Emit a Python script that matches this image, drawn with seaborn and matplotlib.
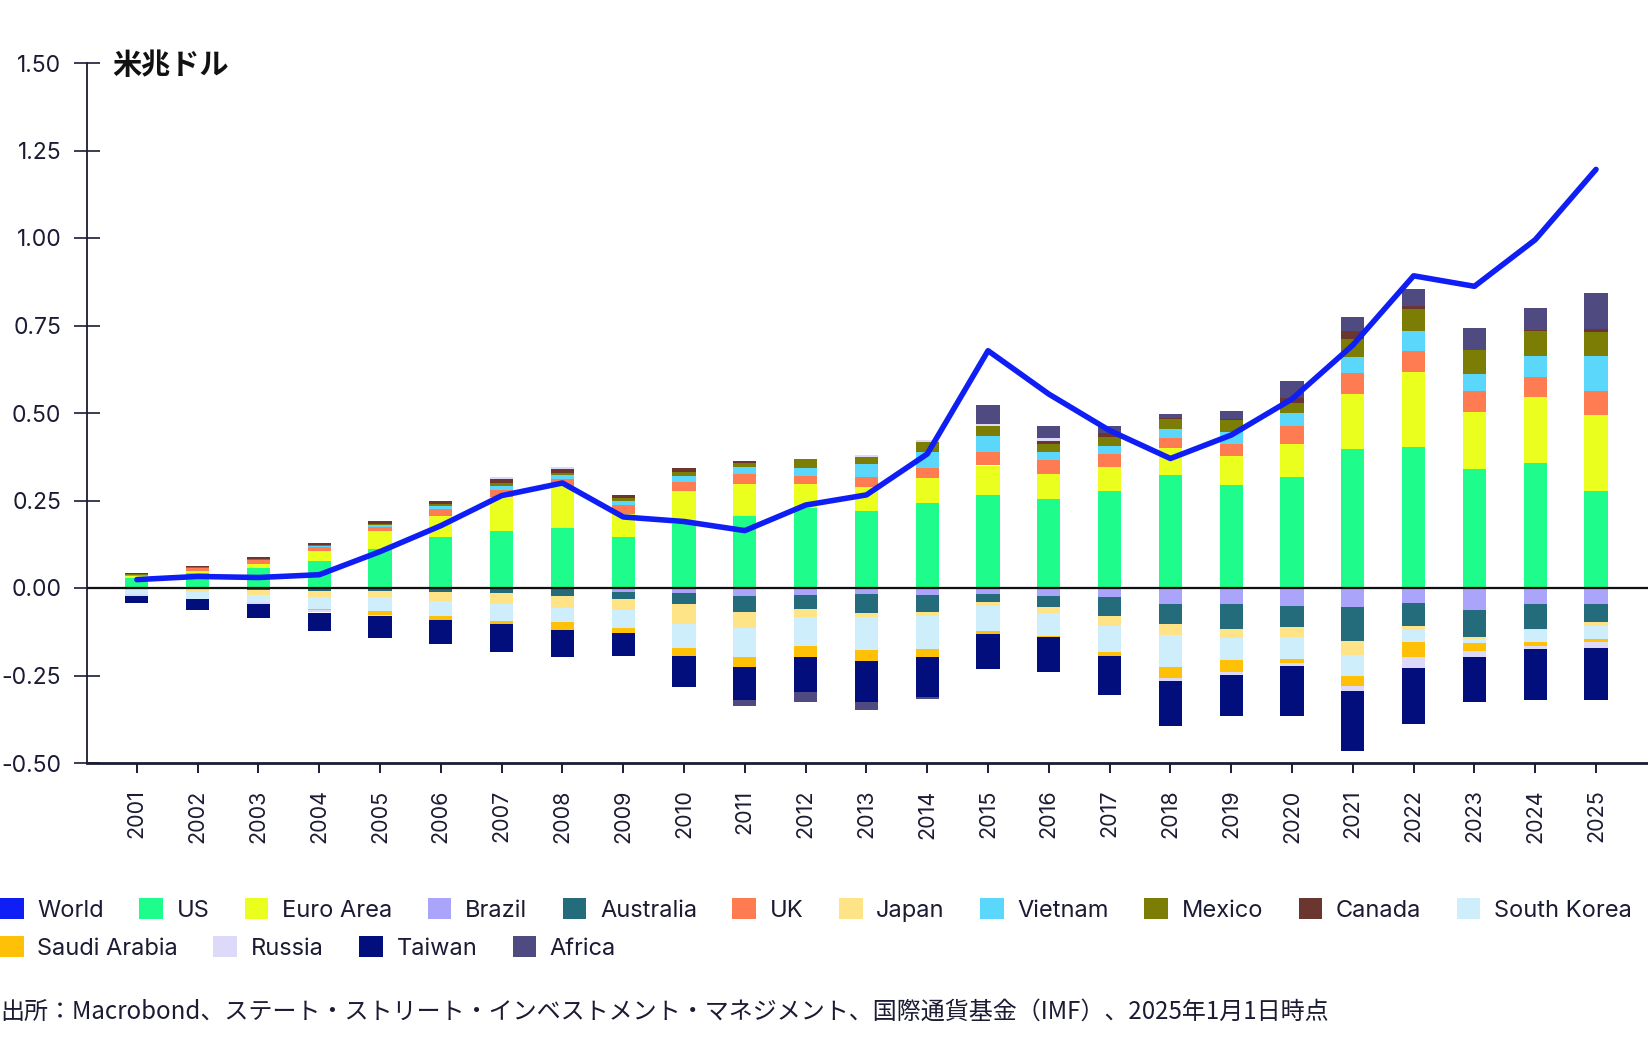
"""China trade balance by partner, stacked bars plus World line."""
import matplotlib.pyplot as plt
import numpy as np
import pandas as pd
import seaborn as sns
from matplotlib.patches import Patch

# ---- data (trillion USD) -------------------------------------------------
years = list(range(2001, 2026))

world = [0.024, 0.033, 0.030, 0.038, 0.104, 0.178, 0.264, 0.300, 0.203, 0.190,
         0.164, 0.237, 0.266, 0.383, 0.678, 0.554, 0.450, 0.370, 0.437, 0.540,
         0.694, 0.892, 0.862, 0.995, 1.196]
us = [0.028, 0.043, 0.056, 0.078, 0.111, 0.145, 0.164, 0.171, 0.145, 0.183,
      0.207, 0.230, 0.221, 0.243, 0.266, 0.254, 0.276, 0.323, 0.295, 0.316,
      0.397, 0.402, 0.340, 0.357, 0.278]
euro_area = [0.006, 0.005, 0.013, 0.029, 0.052, 0.062, 0.095, 0.121, 0.067, 0.095,
             0.090, 0.067, 0.067, 0.070, 0.084, 0.073, 0.071, 0.076, 0.081, 0.095,
             0.157, 0.214, 0.164, 0.188, 0.217]
brazil = [0, 0, 0, 0, 0, 0, 0, 0, -0.012, -0.015,
          -0.022, -0.019, -0.017, -0.019, -0.017, -0.024, -0.027, -0.046, -0.046, -0.050,
          -0.055, -0.044, -0.062, -0.046, -0.046]
australia = [-0.004, -0.003, -0.005, -0.008, -0.008, -0.012, -0.015, -0.022, -0.019, -0.030,
             -0.046, -0.041, -0.054, -0.049, -0.024, -0.031, -0.054, -0.057, -0.071, -0.062,
             -0.097, -0.064, -0.079, -0.071, -0.052]
uk = [0.004, 0.008, 0.011, 0.010, 0.012, 0.019, 0.022, 0.019, 0.026, 0.026,
      0.029, 0.024, 0.030, 0.031, 0.038, 0.039, 0.035, 0.030, 0.035, 0.052,
      0.060, 0.060, 0.058, 0.057, 0.067]
japan = [-0.002, -0.007, -0.016, -0.019, -0.019, -0.024, -0.030, -0.036, -0.033, -0.057,
         -0.047, -0.024, -0.012, -0.013, -0.010, -0.016, -0.027, -0.031, -0.027, -0.029,
         -0.039, -0.012, -0.005, -0.003, -0.010]
vietnam = [0.0, 0.001, 0.001, 0.002, 0.004, 0.008, 0.010, 0.012, 0.012, 0.015,
           0.021, 0.021, 0.036, 0.045, 0.046, 0.023, 0.024, 0.024, 0.035, 0.036,
           0.045, 0.059, 0.050, 0.062, 0.102]
mexico = [0.002, 0.002, 0.002, 0.003, 0.005, 0.006, 0.010, 0.005, 0.008, 0.013,
          0.010, 0.027, 0.020, 0.029, 0.028, 0.022, 0.024, 0.030, 0.033, 0.030,
          0.052, 0.062, 0.067, 0.071, 0.067]
canada = [0.004, 0.005, 0.005, 0.007, 0.006, 0.010, 0.010, 0.011, 0.009, 0.010,
          0.007, 0.0, 0.0, 0.0, 0.0, 0.009, 0.014, 0.003, 0.004, 0.014,
          0.024, 0.010, 0.0, 0.002, 0.010]
south_korea = [-0.012, -0.020, -0.019, -0.033, -0.038, -0.043, -0.048, -0.040, -0.050, -0.070,
               -0.082, -0.083, -0.095, -0.093, -0.071, -0.065, -0.074, -0.092, -0.061, -0.062,
               -0.061, -0.035, -0.010, -0.035, -0.038]
saudi_arabia = [0, 0, 0, -0.002, -0.012, -0.012, -0.010, -0.022, -0.014, -0.023,
                -0.030, -0.031, -0.031, -0.024, -0.010, -0.005, -0.013, -0.031, -0.034, -0.011,
                -0.027, -0.041, -0.024, -0.011, -0.007]
russia = [-0.004, -0.002, -0.006, -0.008, -0.002, 0, 0.007, 0.007, 0, 0,
          0, 0, 0.006, 0.005, 0.006, 0.009, 0, -0.008, -0.010, -0.008,
          -0.014, -0.033, -0.016, -0.008, -0.017]
taiwan = [-0.022, -0.030, -0.040, -0.053, -0.064, -0.070, -0.079, -0.078, -0.065, -0.089,
          -0.093, -0.098, -0.118, -0.114, -0.100, -0.100, -0.112, -0.130, -0.116, -0.143,
          -0.174, -0.160, -0.130, -0.146, -0.150]
africa = [0, 0, 0, 0, 0, 0, 0, 0, 0, 0,
          -0.016, -0.029, -0.022, -0.004, 0.056, 0.035, 0.019, 0.012, 0.024, 0.048,
          0.040, 0.048, 0.065, 0.062, 0.102]

y_ticks = [-0.50, -0.25, 0.00, 0.25, 0.50, 0.75, 1.00, 1.25, 1.50]
unit_label = "米兆ドル"
source_note = ("出所：Macrobond、ステート・ストリート・インベストメント・マネジメント、"
               "国際通貨基金（IMF）、2025年1月1日時点")

# stacking order = legend order (positives and negatives stacked separately)
partners = pd.DataFrame({
    "US": us, "Euro Area": euro_area, "Brazil": brazil, "Australia": australia,
    "UK": uk, "Japan": japan, "Vietnam": vietnam, "Mexico": mexico,
    "Canada": canada, "South Korea": south_korea, "Saudi Arabia": saudi_arabia,
    "Russia": russia, "Taiwan": taiwan, "Africa": africa,
}, index=years)

COLORS = {
    "World": "#0F1EF5",
    "US": "#1EFC8C",
    "Euro Area": "#EBFF1E",
    "Brazil": "#ABA4FB",
    "Australia": "#246B7B",
    "UK": "#FF7B52",
    "Japan": "#FFE387",
    "Vietnam": "#5AD7FA",
    "Mexico": "#7B7D05",
    "Canada": "#6B3630",
    "South Korea": "#CDEEFA",
    "Saudi Arabia": "#FFC107",
    "Russia": "#DDD9F8",
    "Taiwan": "#030E7D",
    "Africa": "#4F4A7F",
}
INK = "#1B1B33"
BAR_WIDTH = 0.38

sns.set_theme(style="white")
plt.rcParams["font.family"] = ["Inter", "Noto Sans CJK JP", "DejaVu Sans"]

W, H = 1648, 1040
fig = plt.figure(figsize=(W / 100, H / 100), dpi=100)
ax = fig.add_axes([87 / W, 1 - 763 / H, (W - 87) / W, 700 / H])

x = np.arange(len(years))
pos_base = np.zeros(len(years))
neg_base = np.zeros(len(years))
for name in partners.columns:
    vals = partners[name].to_numpy(dtype=float)
    pos = np.clip(vals, 0, None)
    neg = np.clip(vals, None, 0)
    ax.bar(x, pos, bottom=pos_base, width=BAR_WIDTH,
           color=COLORS[name], linewidth=0, zorder=2)
    ax.bar(x, neg, bottom=neg_base, width=BAR_WIDTH,
           color=COLORS[name], linewidth=0, zorder=2)
    pos_base += pos
    neg_base += neg

ax.axhline(0, color="#111111", linewidth=1.6, zorder=3)

sns.lineplot(x=x, y=world, color=COLORS["World"], linewidth=4.0,
             ax=ax, zorder=5, legend=False)

ax.set_xlim(-0.82, len(years) - 1 + 0.855)
ax.set_ylim(-0.5, 1.5)
ax.set_yticks(y_ticks)
ax.set_yticklabels([f"{v:.2f}" for v in y_ticks])
ax.set_xticks(x)
ax.set_xticklabels([str(y) for y in years], rotation=90)

ax.tick_params(axis="y", direction="inout", length=19, width=1.2,
               color=INK, labelsize=16.5, labelcolor=INK, pad=9, left=True)
ax.tick_params(axis="x", direction="out", length=7, width=1.4,
               color=INK, labelsize=15.5, labelcolor=INK, pad=12, bottom=True)

sns.despine(ax=ax)
ax.spines["left"].set_color(INK)
ax.spines["left"].set_linewidth(1.3)
ax.spines["bottom"].set_color(INK)
ax.spines["bottom"].set_linewidth(2.0)

fig.text(112 / W, 1 - 65 / H, unit_label, fontsize=21, fontweight="bold",
         color="#111111", va="center", ha="left", family=["Noto Sans CJK JP"])

# legend: two flowing rows
names_row1 = ["World", "US", "Euro Area", "Brazil", "Australia", "UK", "Japan",
              "Vietnam", "Mexico", "Canada", "South Korea"]
names_row2 = ["Saudi Arabia", "Russia", "Taiwan", "Africa"]
for names, yc in [(names_row1, 1 - 910 / H), (names_row2, 1 - 948 / H)]:
    handles = [Patch(facecolor=COLORS[n], edgecolor="none", label=n) for n in names]
    fig.legend(handles=handles, loc="center left", bbox_to_anchor=(0.0, yc),
               ncol=len(names), frameon=False, fontsize=17,
               handlelength=1.0, handleheight=1.0, handletextpad=0.58,
               columnspacing=1.5, borderpad=0, borderaxespad=0,
               labelcolor=INK)

fig.text(0.0, 1 - 1012 / H, source_note, fontsize=17.3, color=INK,
         va="center", ha="left", family=["Noto Sans CJK JP"])

fig.savefig("out.png", dpi=100)
plt.close(fig)
